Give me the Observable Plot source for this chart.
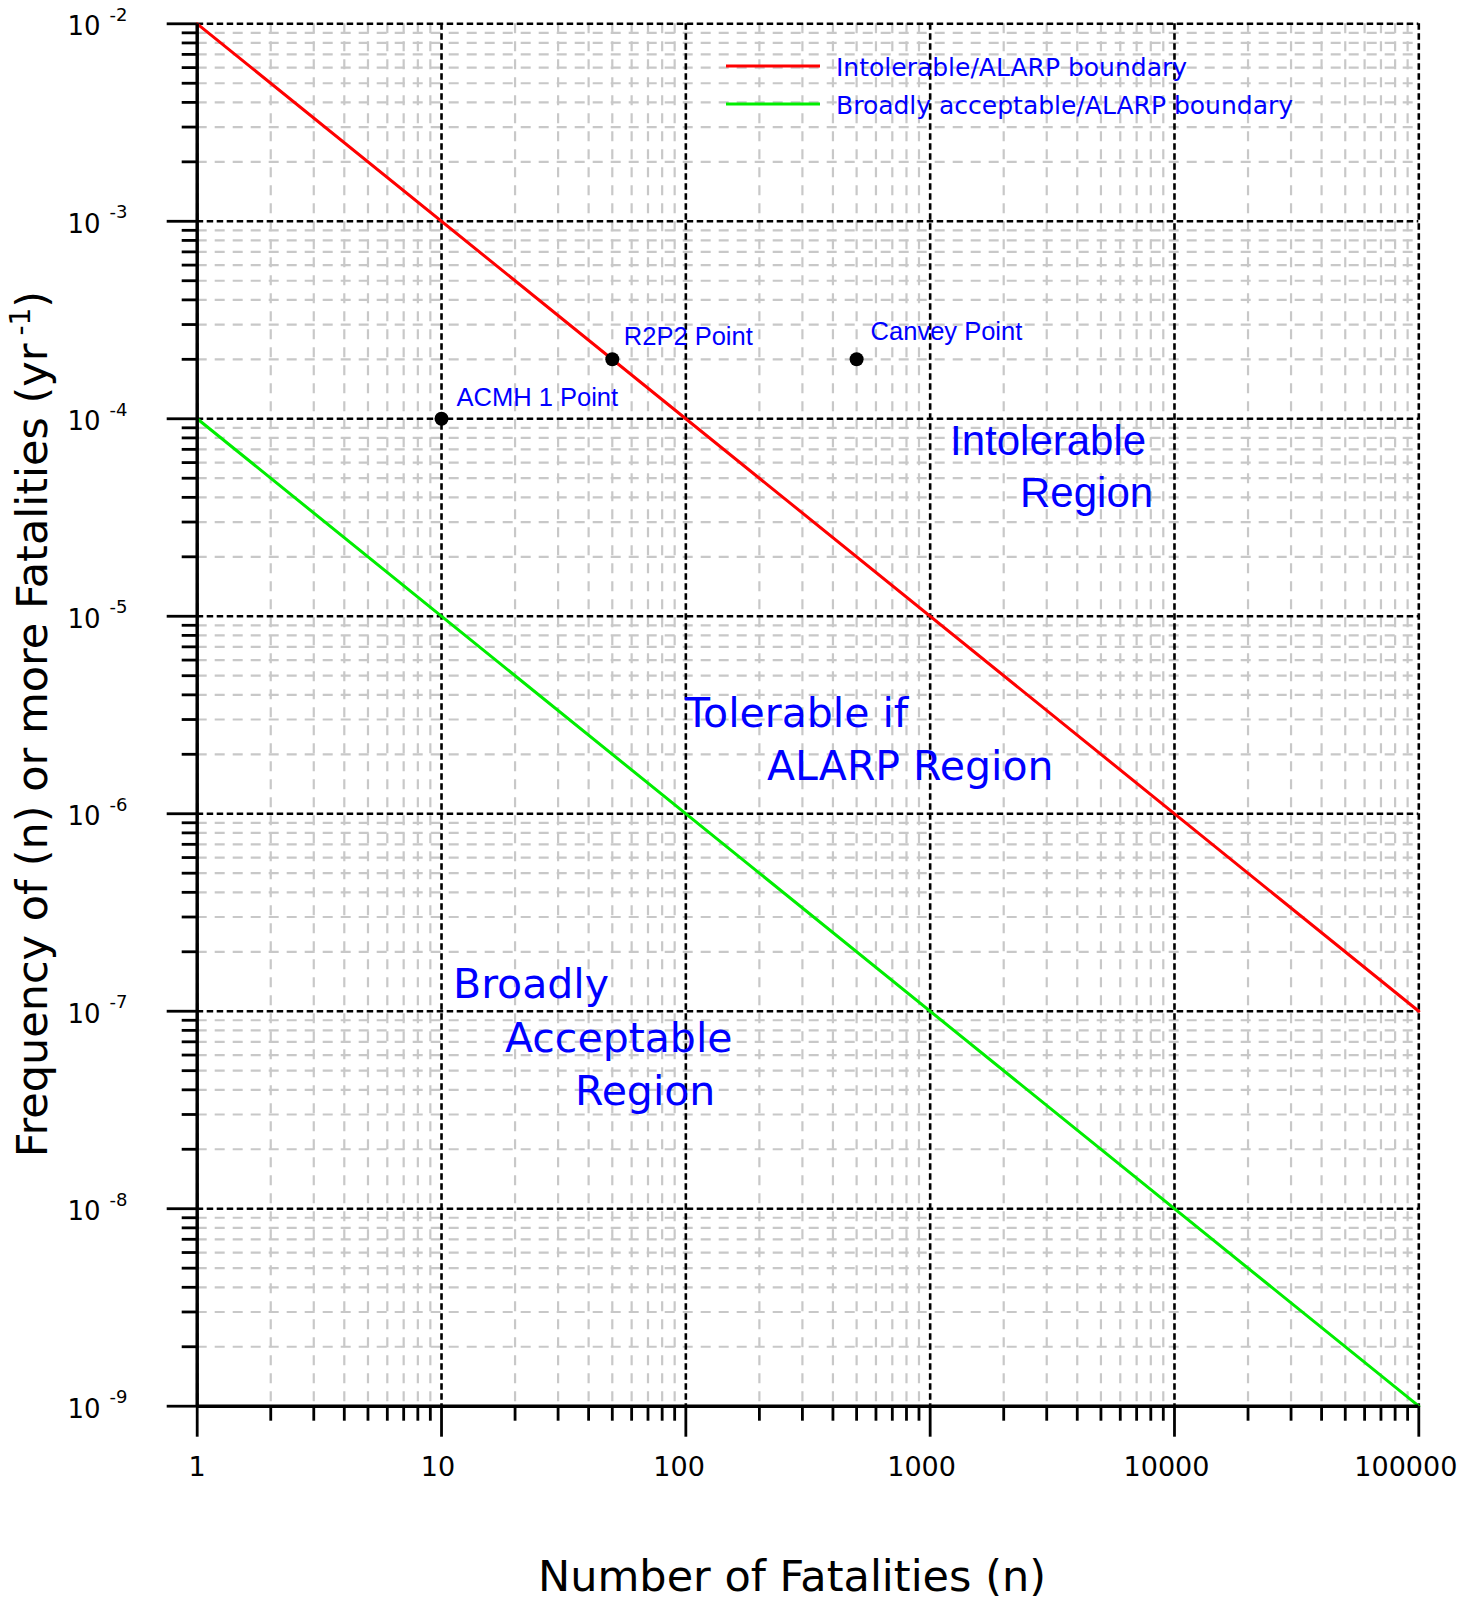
<!DOCTYPE html>
<html>
<head>
<meta charset="utf-8">
<script src="https://cdn.jsdelivr.net/npm/d3@7"></script>
<script src="https://cdn.jsdelivr.net/npm/@observablehq/plot@0.6"></script>
<style>
  html, body { margin: 0; padding: 0; background: #ffffff; }
  #chart svg { display: block; }
</style>
</head>
<body>
<div id="chart"></div>
<script>
// ---------- data ----------
const xMajor = [1, 10, 100, 1000, 10000, 100000];
const xTickLabels = ["1", "10", "100", "1000", "10000", "100000"];
const yMajor = [1e-9, 1e-8, 1e-7, 1e-6, 1e-5, 1e-4, 1e-3, 1e-2];
const yExponents = ["-9", "-8", "-7", "-6", "-5", "-4", "-3", "-2"];

const boundaryN = [1, 100000];
const intolerableF = [1e-2, 1e-7];
const acceptableF = [1e-4, 1e-9];

const pointNames = ["ACMH 1 Point", "R2P2 Point", "Canvey Point"];
const pointN = [10, 50, 500];
const pointF = [1e-4, 2e-4, 2e-4];

const legendLabels = ["Intolerable/ALARP boundary", "Broadly acceptable/ALARP boundary"];

// ---------- styling (not data) ----------
const W = 1460, H = 1599;
const mL = 196.7, mR = 41.7, mT = 23.3, mB = 193.3;
const xLabelShift = [0, -3.5, -6.8, -8.6, -8, -13];
const pointLabelOffsets = [[15, -13], [11.5, -14], [14, -19]];

const isPow10 = v => Math.abs(Math.log10(v) - Math.round(Math.log10(v))) < 1e-9;
const xMinor = d3.scaleLog().domain([1, 1e5]).ticks().filter(v => !isPow10(v));
const yMinor = d3.scaleLog().domain([1e-9, 1e-2]).ticks().filter(v => !isPow10(v));

const points = pointN.map((n, i) => ({n, f: pointF[i], name: pointNames[i], i}));

const marks = [
  // minor grid
  Plot.gridX(xMinor, {stroke: "#c8c8c8", strokeOpacity: 1, strokeWidth: 2.2, strokeDasharray: "10,8"}),
  Plot.gridY(yMinor, {stroke: "#c8c8c8", strokeOpacity: 1, strokeWidth: 2.2, strokeDasharray: "10,8"}),
  // major grid
  Plot.gridX(xMajor, {stroke: "#000", strokeOpacity: 1, strokeWidth: 2.6, strokeDasharray: "6.5,3.5"}),
  Plot.gridY(yMajor, {stroke: "#000", strokeOpacity: 1, strokeWidth: 2.6, strokeDasharray: "6.5,3.5"}),
  // boundary lines
  Plot.line(boundaryN, {x: d => d, y: (d, i) => intolerableF[i], stroke: "#ff0000", strokeWidth: 3}),
  Plot.line(boundaryN, {x: d => d, y: (d, i) => acceptableF[i], stroke: "#00ee00", strokeWidth: 3}),
  // axes: ticks
  Plot.axisX(xMinor, {tickSize: 15, tickFormat: () => "", label: null, strokeWidth: 2.8, stroke: "#000"}),
  Plot.axisX(xMajor, {tickSize: 31, tickFormat: () => "", label: null, strokeWidth: 2.8, stroke: "#000"}),
  Plot.axisY(yMinor, {tickSize: 15, tickFormat: () => "", label: null, strokeWidth: 2.8, stroke: "#000"}),
  Plot.axisY(yMajor, {tickSize: 30, tickFormat: () => "", label: null, strokeWidth: 2.8, stroke: "#000"}),
  Plot.ruleX([1], {stroke: "#000", strokeWidth: 3.4}),
  Plot.ruleY([1e-9], {stroke: "#000", strokeWidth: 3.4}),
  // x tick labels
  ...xMajor.map((v, i) => Plot.text([v], {
    x: d => d, frameAnchor: "bottom", text: () => xTickLabels[i],
    fontSize: 27, lineAnchor: "bottom", textAnchor: "middle", dy: 69.3, dx: xLabelShift[i], fill: "#000"
  })),
  // y tick labels: 10 with exponent
  Plot.text(yMajor, {y: d => d, frameAnchor: "left", text: () => "10", fontSize: 26,
    lineAnchor: "bottom", textAnchor: "end", dx: -96.7, dy: 11.5, fill: "#000"}),
  Plot.text(yMajor, {y: d => d, frameAnchor: "left", text: (d, i) => yExponents[i], fontSize: 18,
    lineAnchor: "bottom", textAnchor: "start", dx: -87.7, dy: -3, fill: "#000"}),
  // points
  Plot.dot(points, {x: "n", y: "f", r: 7, fill: "#000", stroke: "none"}),
  ...points.map((p, i) => Plot.text([p], {
    x: "n", y: "f", text: "name", textAnchor: "start", lineAnchor: "bottom",
    dx: pointLabelOffsets[i][0], dy: pointLabelOffsets[i][1],
    fontSize: 25.5, fontFamily: "Liberation Sans", fill: "#0000ff"
  }))
];

const svg = Plot.plot({
  width: W, height: H,
  marginLeft: mL, marginRight: mR, marginTop: mT, marginBottom: mB,
  x: {type: "log", domain: [1, 1e5], label: null},
  y: {type: "log", domain: [1e-9, 1e-2], label: null},
  style: {fontFamily: "DejaVu Sans", fontSize: "26px", background: "#ffffff", color: "#000", overflow: "visible"},
  marks
});

// ---------- annotations: legend, region labels, axis titles ----------
const s = d3.select(svg);
const g = s.append("g").attr("text-anchor", "start");

// legend
const legendColors = ["#ff0000", "#00ee00"];
const legendY = [66, 104];
legendLabels.forEach((lab, i) => {
  g.append("line").attr("x1", 726).attr("x2", 820).attr("y1", legendY[i]).attr("y2", legendY[i])
    .attr("stroke", legendColors[i]).attr("stroke-width", 3);
  g.append("text").attr("x", 836).attr("y", legendY[i] + 9.5).attr("text-anchor", "start")
    .attr("font-family", "DejaVu Sans").attr("font-size", 25).attr("fill", "#0000ff").text(lab);
});

// region labels
const regionText = [
  {t: "Intolerable", x: 950, y: 455, f: "Liberation Sans", s: 42},
  {t: "Region", x: 1020, y: 507, f: "Liberation Sans", s: 42},
  {t: "Tolerable if", x: 685, y: 727, f: "DejaVu Sans", s: 41},
  {t: "ALARP Region", x: 767, y: 780, f: "DejaVu Sans", s: 41},
  {t: "Broadly", x: 453, y: 998, f: "DejaVu Sans", s: 41},
  {t: "Acceptable", x: 505, y: 1052, f: "DejaVu Sans", s: 41},
  {t: "Region", x: 575, y: 1105, f: "DejaVu Sans", s: 41}
];
regionText.forEach(r => {
  g.append("text").attr("x", r.x).attr("y", r.y).attr("font-family", r.f).attr("text-anchor", "start")
    .attr("font-size", r.s).attr("fill", "#0000ff").text(r.t);
});

// x axis title
g.append("text").attr("x", 792).attr("y", 1591).attr("text-anchor", "middle")
  .attr("font-family", "DejaVu Sans").attr("font-size", 43).attr("fill", "#000")
  .text("Number of Fatalities (n)");

// y axis title
const yt = g.append("text").attr("transform", "translate(47,724) rotate(-90)")
  .attr("text-anchor", "middle").attr("font-family", "DejaVu Sans")
  .attr("font-size", 43).attr("fill", "#000");
yt.append("tspan").text("Frequency of (n) or more Fatalities (yr");
yt.append("tspan").attr("dx", 8).attr("dy", -17).attr("font-size", 28).text("-1");
yt.append("tspan").attr("dy", 17).text(")");

document.getElementById("chart").appendChild(svg);
</script>
</body>
</html>
